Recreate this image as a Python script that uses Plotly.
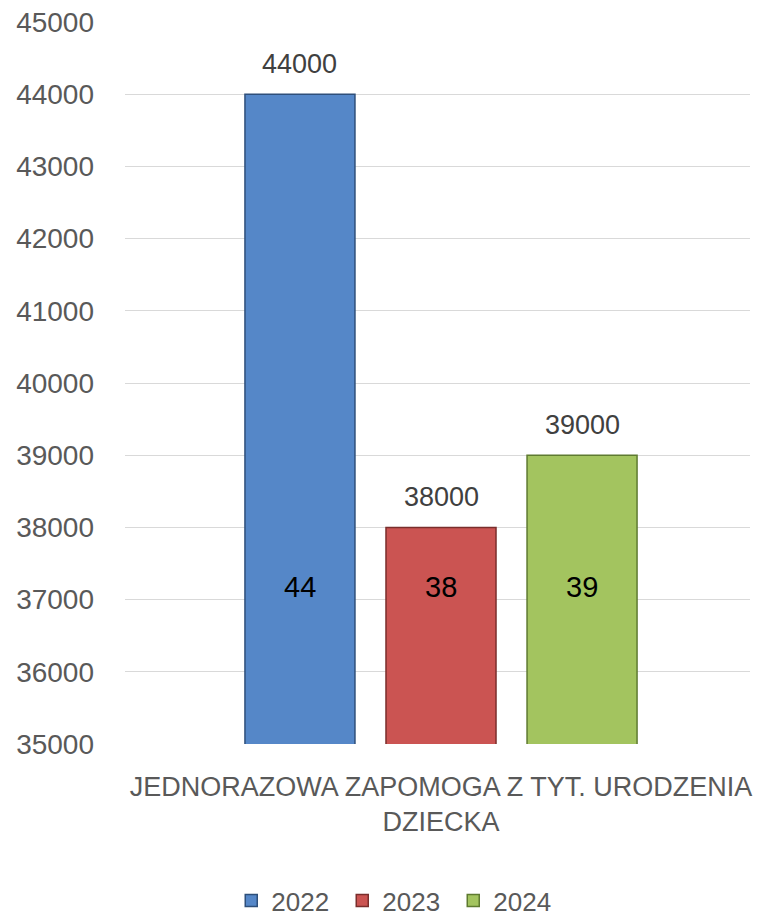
import plotly.graph_objects as go

categories = ["JEDNORAZOWA ZAPOMOGA Z TYT. URODZENIA<br>DZIECKA"]
years = ["2022", "2023", "2024"]
values = [44000, 38000, 39000]
inner_labels = ["44", "38", "39"]
colors = ["#5587C8", "#CB5452", "#A3C45F"]
edge_colors = ["#2E4F7A", "#7A2E2C", "#5E7A30"]
y_ticks = list(range(35000, 45001, 1000))

FONT = "Liberation Sans"
fig = go.Figure()
for yr, v, c, ec in zip(years, values, colors, edge_colors):
    fig.add_trace(go.Bar(
        name=yr, x=categories, y=[v],
        marker=dict(color=c, line=dict(color=ec, width=1.5)),
        hoverinfo="skip",
    ))

W, L, R = 759, 125, 9
plot_w = W - L - R
bargap, bargroupgap = 0.323, 0.22
slot = plot_w * (1 - bargap) / len(years)
shift_frac = 3.5 / plot_w

annotations = []
for i, (v, lab) in enumerate(zip(values, inner_labels)):
    xs = (i - 1) * slot
    annotations.append(dict(x=categories[0], y=v, xref="x", yref="y", text=f"{v}",
                            showarrow=False, xshift=xs, yshift=30, yanchor="middle",
                            font=dict(family=FONT, size=27, color="#404040")))
    annotations.append(dict(x=categories[0], y=y_ticks[0], xref="x", yref="y", text=lab,
                            showarrow=False, xshift=xs, yshift=157, yanchor="middle",
                            font=dict(family=FONT, size=29, color="#000000")))

fig.update_layout(
    width=W, height=916,
    margin=dict(l=L, r=R, t=22, b=172, autoexpand=False),
    paper_bgcolor="white", plot_bgcolor="white",
    barmode="group", bargap=bargap, bargroupgap=bargroupgap,
    font=dict(family=FONT, color="#595959"),
    xaxis=dict(range=[-0.5 - shift_frac, 0.5 - shift_frac], showgrid=False,
               tickfont=dict(family=FONT, size=27, color="#595959"),
               ticklabelstandoff=24, automargin=False,
               showline=False, ticks=""),
    yaxis=dict(range=[35000, 45000], tickvals=y_ticks, ticktext=[str(t) for t in y_ticks],
               showgrid=True, gridcolor="#D9D9D9", gridwidth=1, zeroline=False,
               tickfont=dict(family=FONT, size=28, color="#595959"),
               ticklabelstandoff=30, showline=False, ticks="", automargin=False),
    legend=dict(orientation="h", x=0.170, xanchor="left", y=-0.217, yanchor="middle",
                font=dict(family=FONT, size=26, color="#595959"),
                itemwidth=30, entrywidth=66, tracegroupgap=0),
    annotations=annotations,
    showlegend=True,
)
fig.write_html("out.html", config={"displayModeBar": False},
               post_script="document.body.style.margin='0';document.body.style.overflow='hidden';")
